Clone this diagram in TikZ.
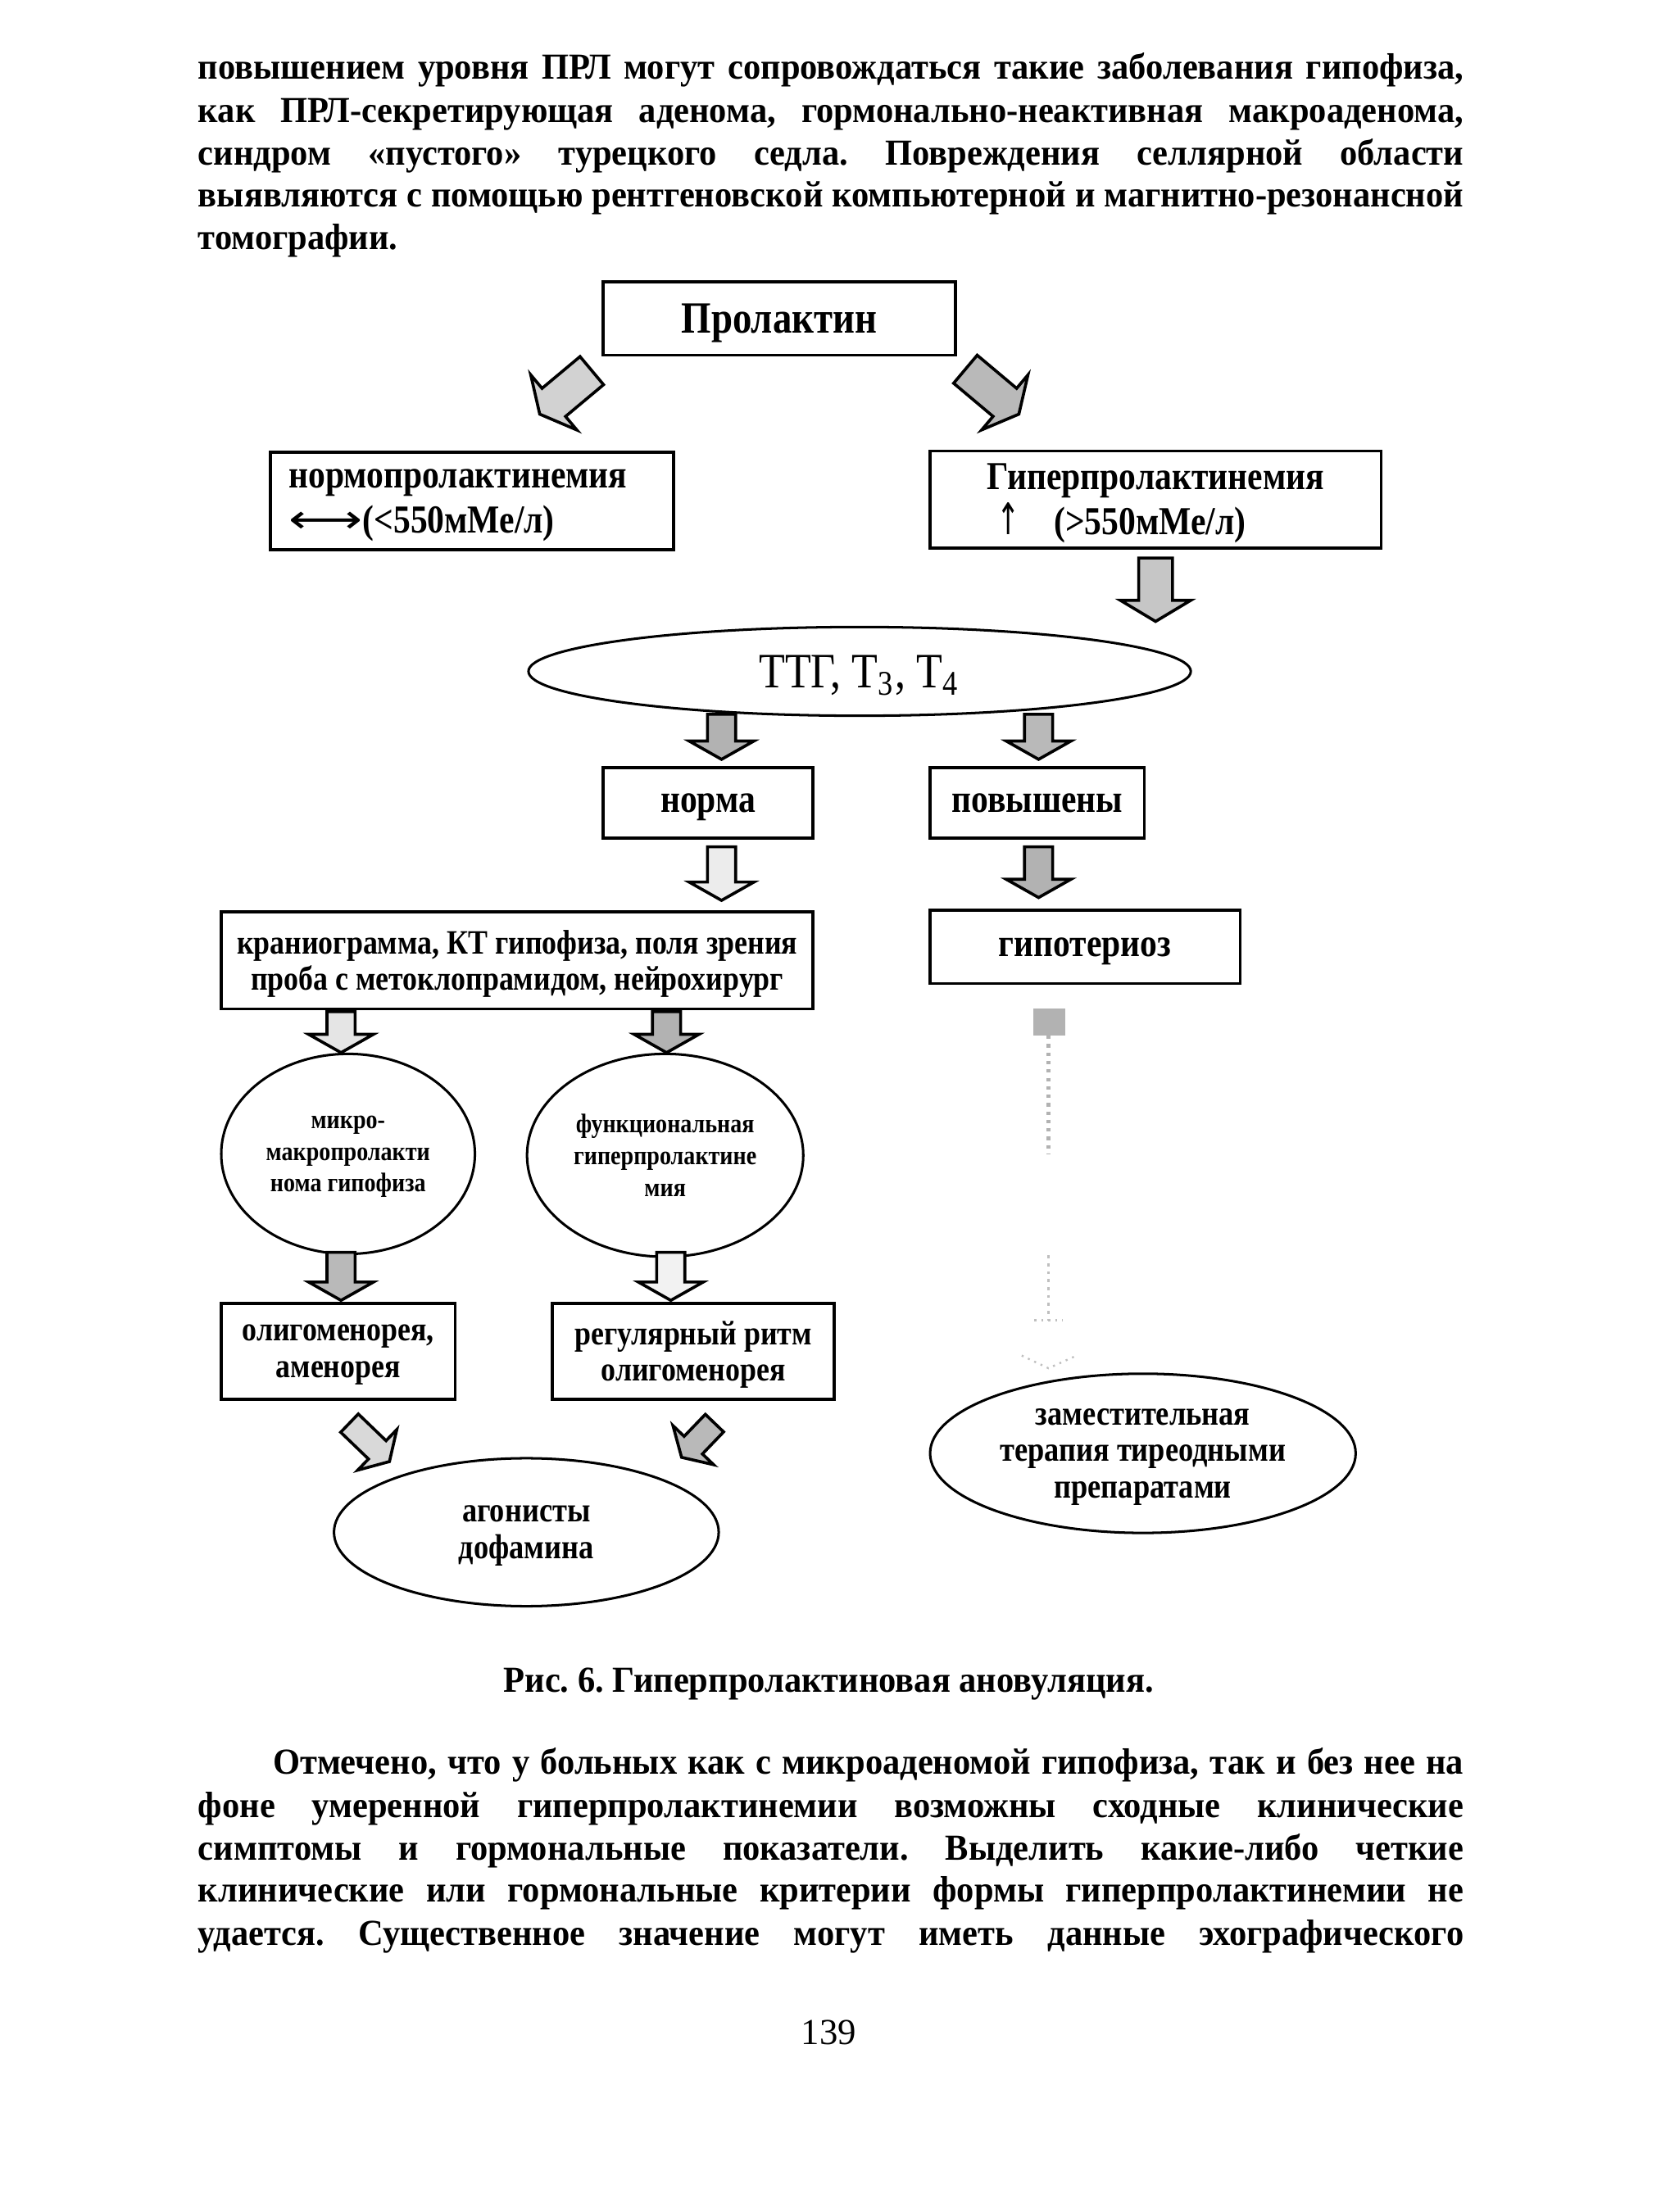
\documentclass[tikz,border=0pt]{standalone}
\usepackage{fontspec}
\setmainfont{Liberation Serif}
\newfontfamily\condfont[FakeStretch=0.86]{Liberation Serif}
\newfontfamily\bodyfont[FakeStretch=0.95]{Liberation Serif}
\newfontfamily\symfont{DejaVu Sans}
\usetikzlibrary{calc,shapes.geometric}
\frenchspacing

% block arrow: shaft half width, head half width, head length
\newcommand\baw{0.10cm}
\newcommand\bah{0.23cm}
\newcommand\bal{0.13cm}
\newcommand\blockarrow[3][gray!50]{%
  \coordinate (ba-s) at (#2);
  \coordinate (ba-e) at (#3);
  \coordinate (ba-c) at ($(ba-e)!\bal!(ba-s)$);
  \draw[line width=0.6pt,fill=#1] ($(ba-s)!\baw!90:(ba-e)$) -- ($(ba-c)!\baw!90:(ba-e)$)
    -- ($(ba-c)!\bah!90:(ba-e)$) -- (ba-e) -- ($(ba-c)!\bah!-90:(ba-e)$)
    -- ($(ba-c)!\baw!-90:(ba-e)$) -- ($(ba-s)!\baw!-90:(ba-e)$) -- cycle;
}

\begin{document}
\begin{tikzpicture}[
    box/.style={draw,line width=0.6pt,inner sep=0pt,align=center,text depth=-0.6pt,
      font=\condfont\bfseries\fontsize{8}{9.1}\selectfont},
    oval/.style={ellipse,draw,line width=0.5pt,inner sep=0pt,align=center,text depth=-0.8pt,
      font=\condfont\bfseries\fontsize{7}{7.4}\selectfont},
    txt/.style={anchor=base west,inner sep=0pt,font=\bodyfont\bfseries\fontsize{7.4}{8.6}\selectfont},
    small/.style={font=\condfont\bfseries\fontsize{6.9}{7.4}\selectfont},
    tiny/.style={font=\condfont\bfseries\fontsize{5.4}{6.4}\selectfont}
  ]
  \useasboundingbox (0,0) rectangle (11.785,-15.70);

  % text above the figure
  \node[txt] (t1) at (1.40,-0.56) {\makebox[8.98cm][s]{повышением уровня ПРЛ могут сопровождаться такие заболевания гипофиза,}};
  \node[txt] (t2) at (1.40,-0.87) {\makebox[8.98cm][s]{как ПРЛ-секретирующая аденома, гормонально-неактивная макроаденома,}};
  \node[txt] (t3) at (1.40,-1.17) {\makebox[8.98cm][s]{синдром «пустого» турецкого седла. Повреждения селлярной области}};
  \node[txt] (t4) at (1.40,-1.47) {\makebox[8.98cm][s]{выявляются с помощью рентгеновской компьютерной и магнитно-резонансной}};
  \node[txt] (t5) at (1.40,-1.77) {томографии.};

  % boxes
  \node[box,minimum width=2.50cm,minimum height=0.52cm,font=\condfont\bfseries\fontsize{9}{10}\selectfont] (prl) at (5.53,-2.26) {Пролактин};
  \node[box,minimum width=2.86cm,minimum height=0.69cm,align=left] (normo) at (3.35,-3.555)
    {\makebox[2.60cm][l]{нормопролактинемия}\\{\symfont\mdseries\scalebox{1.3}[1]{⟷}}(<550мМе/л)};
  \node[box,minimum width=3.20cm,minimum height=0.69cm] (hyper) at (8.20,-3.545)
    {Гиперпролактинемия\\\makebox[2.35cm][l]{\hspace{0.05cm}{\symfont\mdseries\scalebox{0.7}[1.1]{↑}}\hspace{0.24cm}(>550мМе/л)}};
  \node[oval,minimum width=4.70cm,minimum height=0.63cm,font=\condfont\fontsize{10}{12}\selectfont] (tth) at (6.10,-4.765)
    {ТТГ, Т\textsubscript{3}, Т\textsubscript{4}};
  \node[box,minimum width=1.49cm,minimum height=0.50cm] (norma) at (5.025,-5.70) {норма};
  \node[box,minimum width=1.52cm,minimum height=0.50cm] (pov) at (7.36,-5.70) {повышены};
  \node[box,small,minimum width=4.20cm,minimum height=0.69cm] (kranio) at (3.67,-6.815)
    {краниограмма, КТ гипофиза, поля зрения\\проба с метоклопрамидом, нейрохирург};
  \node[box,minimum width=2.20cm,minimum height=0.52cm] (gipo) at (7.70,-6.72) {гипотериоз};
  \node[oval,tiny,minimum width=1.80cm,minimum height=1.42cm] (micro) at (2.47,-8.19) {микро-\\макропролакти\\нома гипофиза};
  \node[oval,tiny,minimum width=1.96cm,minimum height=1.44cm] (func) at (4.72,-8.20) {функциональная\\гиперпролактине\\мия};
  \node[box,small,minimum width=1.66cm,minimum height=0.68cm] (oligo) at (2.40,-9.59) {олигоменорея,\\аменорея};
  \node[box,small,minimum width=2.00cm,minimum height=0.68cm] (reg) at (4.92,-9.59) {регулярный ритм\\олигоменорея};
  \node[oval,minimum width=2.73cm,minimum height=1.05cm] (agon) at (3.735,-10.875) {агонисты\\дофамина};
  \node[oval,minimum width=3.02cm,minimum height=1.13cm] (zam) at (8.11,-10.315) {заместительная\\терапия тиреодными\\препаратами};

  % block arrows
  \begin{scope}
    \renewcommand\baw{0.13cm}\renewcommand\bah{0.255cm}\renewcommand\bal{0.13cm}
    \blockarrow[gray!35]{$(prl.south west)+(-0.07,-0.10)$}{$(normo.north)+(0.48,0.26)$}
    \blockarrow[gray!55]{$(prl.south east)+(0.06,-0.09)$}{$(hyper.north)+(-0.97,0.25)$}
  \end{scope}
  \begin{scope}
    \renewcommand\baw{0.12cm}\renewcommand\bah{0.25cm}\renewcommand\bal{0.15cm}
    \blockarrow[gray!45]{$(hyper.south)+(0,-0.06)$}{$(hyper.south)+(0,-0.51)$}
  \end{scope}
  \blockarrow[gray!60]{$(norma.north)+(0.095,0.37)$}{$(norma.north)+(0.095,0.05)$}
  \blockarrow[gray!55]{$(pov.north)+(0.01,0.37)$}{$(pov.north)+(0.01,0.05)$}
  \blockarrow[gray!15]{$(norma.south)+(0.095,-0.05)$}{$(norma.south)+(0.095,-0.43)$}
  \blockarrow[gray!60]{$(pov.south)+(0.01,-0.05)$}{$(pov.south)+(0.01,-0.41)$}
  \blockarrow[gray!20]{$(kranio.south -| micro.north)+(-0.05,-0.01)$}{$(micro.north)+(-0.05,0)$}
  \blockarrow[gray!60]{$(kranio.south -| func.north)+(0.01,-0.01)$}{$(func.north)+(0.01,0)$}
  \blockarrow[gray!55]{$(micro.south)+(-0.05,0.02)$}{$(oligo.north)+(0.02,0.01)$}
  \blockarrow[gray!10]{$(func.south)+(0.04,0.04)$}{$(func.south |- reg.north)+(0.04,0.01)$}
  \begin{scope}
    \renewcommand\baw{0.09cm}\renewcommand\bah{0.20cm}\renewcommand\bal{0.12cm}
    \blockarrow[gray!30]{$(oligo.south)+(0.08,-0.16)$}{$(agon.north west)+(0,0.124)$}
    \blockarrow[gray!55]{$(reg.south)+(0.15,-0.16)$}{$(agon.north east)+(0.13,0.154)$}
  \end{scope}

  % faint arrow gipo -> zam
  \coordinate (dtop) at ($(gipo.south)+(-0.26,-0.17)$);
  \coordinate (dtip) at ($(zam.north)+(-0.67,0.03)$);
  \fill[gray!60] ($(dtop)+(-0.11,0)$) rectangle ($(dtop)+(0.12,-0.19)$);
  \draw[gray!60,densely dotted,line width=0.7pt] ($(dtop)+(0,-0.19)$) -- ($(dtop)+(0,-1.03)$);
  \draw[gray!50,densely dotted,line width=0.6pt] ($(dtop)+(0,-1.75)$) -- ($(dtip)+(0,0.34)$);
  \draw[gray!50,densely dotted] ($(dtip)+(-0.10,0.34)$) -- ($(dtip)+(0.10,0.34)$);
  \draw[gray!50,densely dotted] ($(dtip)+(-0.19,0.09)$) -- (dtip) -- ($(dtip)+(0.20,0.09)$);

  % caption
  \node[anchor=base,inner sep=0pt,font=\bodyfont\bfseries\fontsize{7.4}{8.6}\selectfont] (cap) at (5.88,-12.01) {Рис. 6. Гиперпролактиновая ановуляция.};

  % text below the figure
  \node[txt] (b1) at (1.93,-12.59) {\makebox[8.45cm][s]{Отмечено, что у больных как с микроаденомой гипофиза, так и без нее на}};
  \node[txt] (b2) at (1.40,-12.90) {\makebox[8.98cm][s]{фоне умеренной гиперпролактинемии возможны сходные клинические}};
  \node[txt] (b3) at (1.40,-13.20) {\makebox[8.98cm][s]{симптомы и гормональные показатели. Выделить какие-либо четкие}};
  \node[txt] (b4) at (1.40,-13.50) {\makebox[8.98cm][s]{клинические или гормональные критерии формы гиперпролактинемии не}};
  \node[txt] (b5) at (1.40,-13.81) {\makebox[8.98cm][s]{удается. Существенное значение могут иметь данные эхографического}};

  \node[anchor=base,inner sep=0pt,font=\fontsize{7.4}{8.6}\selectfont] (pg) at (5.88,-14.51) {139};
\end{tikzpicture}
\end{document}
